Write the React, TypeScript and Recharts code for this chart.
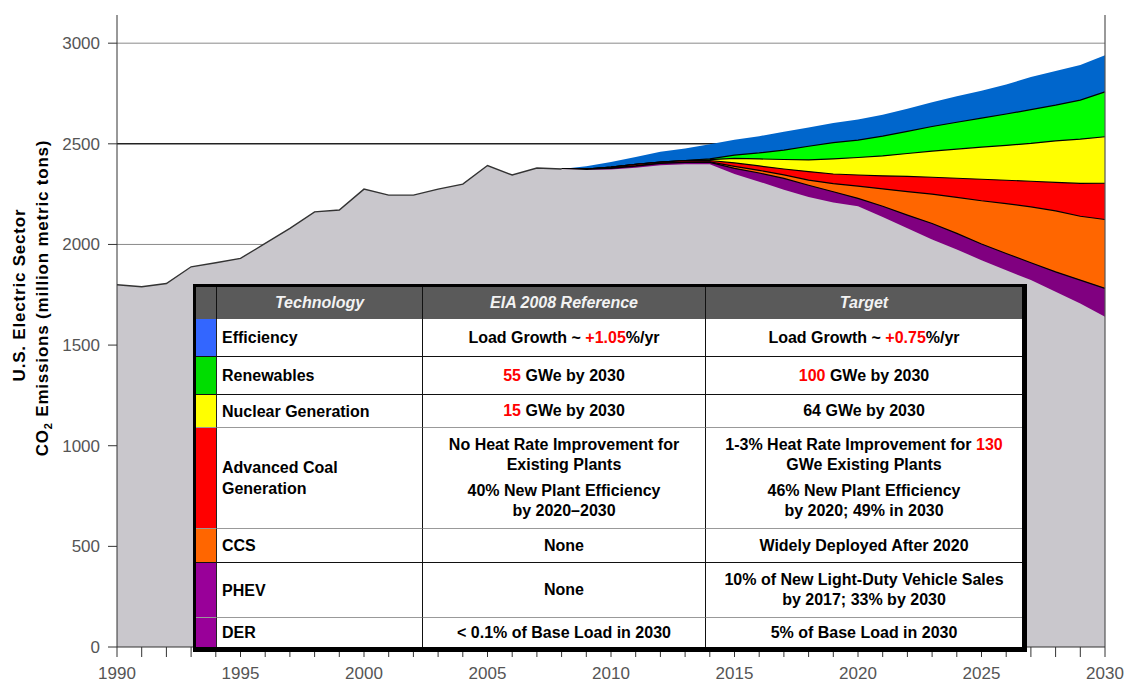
import React from "react";
import {
  ComposedChart,
  Area,
  Line,
  XAxis,
  YAxis,
  CartesianGrid,
  ReferenceLine,
} from "recharts";

// years on the x axis
const years = [
  1990, 1991, 1992, 1993, 1994, 1995, 1996, 1997, 1998, 1999, 2000, 2001, 2002,
  2003, 2004, 2005, 2006, 2007, 2008, 2009, 2010, 2011, 2012, 2013, 2014, 2015,
  2016, 2017, 2018, 2019, 2020, 2021, 2022, 2023, 2024, 2025, 2026, 2027, 2028,
  2029, 2030,
];

// grey area: history to 2008, then the emissions left after all measures
const baseline = [
  1800, 1790, 1806, 1889, 1909, 1931, 2005, 2080, 2162, 2171, 2275, 2245, 2245,
  2275, 2300, 2392, 2345, 2380, 2375, 2370, 2372, 2381, 2393, 2398, 2398, 2350,
  2312, 2272, 2236, 2208, 2190, 2137, 2080, 2025, 1975, 1922, 1872, 1823, 1765,
  1707, 1641,
];

// projection years, and the top edge of each coloured band
const projYears = [
  2008, 2009, 2010, 2011, 2012, 2013, 2014, 2015, 2016, 2017, 2018, 2019, 2020,
  2021, 2022, 2023, 2024, 2025, 2026, 2027, 2028, 2029, 2030,
];
const phevDerTop = [
  2375, 2373, 2378, 2389, 2403, 2408, 2408, 2378, 2355, 2328, 2294, 2262, 2229,
  2190, 2146, 2104, 2055, 2002, 1955, 1909, 1864, 1823, 1782,
];
const ccsTop = [
  2375, 2374, 2380, 2390, 2404, 2409, 2410, 2388, 2368, 2346, 2320, 2302, 2290,
  2276, 2262, 2250, 2234, 2217, 2203, 2187, 2167, 2140, 2124,
];
const coalTop = [
  2375, 2375, 2384, 2398, 2409, 2416, 2417, 2405, 2390, 2375, 2362, 2350, 2345,
  2341, 2338, 2334, 2329, 2324, 2319, 2314, 2308, 2303, 2304,
];
const nuclearTop = [
  2375, 2375, 2384, 2398, 2409, 2417, 2421, 2428, 2425, 2422, 2420, 2425, 2432,
  2440, 2452, 2464, 2474, 2484, 2492, 2502, 2515, 2523, 2535,
];
const renewablesTop = [
  2375, 2375, 2384, 2398, 2409, 2417, 2425, 2444, 2455, 2469, 2488, 2506, 2518,
  2538, 2562, 2586, 2607, 2628, 2648, 2670, 2692, 2717, 2758,
];
const efficiencyTop = [
  2375, 2389, 2410, 2435, 2460, 2477, 2498, 2520, 2538, 2560, 2581, 2603, 2621,
  2645, 2674, 2706, 2736, 2764, 2795, 2832, 2862, 2891, 2940,
];

const yTicks = [0, 500, 1000, 1500, 2000, 2500, 3000];
const xTickLabels = [1990, 1995, 2000, 2005, 2010, 2015, 2020, 2025, 2030];

const proj = (arr: number[], year: number) => {
  const k = projYears.indexOf(year);
  return k >= 0 ? arr[k] : null;
};

const data = years.map((year, i) => ({
  year,
  base: baseline[i],
  hist: year <= 2008 ? baseline[i] : null,
  phev: proj(phevDerTop, year),
  ccs: proj(ccsTop, year),
  coal: proj(coalTop, year),
  nuclear: proj(nuclearTop, year),
  renewables: proj(renewablesTop, year),
  efficiency: proj(efficiencyTop, year),
}));

// table text
const RED = "#ff0000";
type Part = string | { red: string };
type Row = {
  swatch: string;
  tech: string[];
  eia: Part[][];
  target: Part[][];
  height: number;
  topLine: string;
};

const rows: Row[] = [
  {
    swatch: "#3366ff",
    tech: ["Efficiency"],
    eia: [["Load Growth ~ ", { red: "+1.05" }, "%/yr"]],
    target: [["Load Growth ~ ", { red: "+0.75" }, "%/yr"]],
    height: 37,
    topLine: "#333",
  },
  {
    swatch: "#00dd00",
    tech: ["Renewables"],
    eia: [[{ red: "55" }, " GWe by 2030"]],
    target: [[{ red: "100" }, " GWe by 2030"]],
    height: 38,
    topLine: "#111",
  },
  {
    swatch: "#ffff00",
    tech: ["Nuclear Generation"],
    eia: [[{ red: "15" }, " GWe by 2030"]],
    target: [["64 GWe by 2030"]],
    height: 33,
    topLine: "#111",
  },
  {
    swatch: "#ff0000",
    tech: ["Advanced Coal", "Generation"],
    eia: [
      ["No Heat Rate Improvement for"],
      ["Existing Plants"],
      [],
      ["40% New Plant Efficiency"],
      ["by 2020\u20132030"],
    ],
    target: [
      ["1-3% Heat Rate Improvement for ", { red: "130" }],
      ["GWe Existing Plants"],
      [],
      ["46% New Plant Efficiency"],
      ["by 2020; 49% in 2030"],
    ],
    height: 101,
    topLine: "#999",
  },
  {
    swatch: "#ff6600",
    tech: ["CCS"],
    eia: [["None"]],
    target: [["Widely Deployed After 2020"]],
    height: 34,
    topLine: "#999",
  },
  {
    swatch: "#990099",
    tech: ["PHEV"],
    eia: [["None"]],
    target: [["10% of New Light-Duty Vehicle Sales"], ["by 2017; 33% by 2030"]],
    height: 55,
    topLine: "#111",
  },
  {
    swatch: "#990099",
    tech: ["DER"],
    eia: [["< 0.1% of Base Load in 2030"]],
    target: [["5% of Base Load in 2030"]],
    height: 30,
    topLine: "#999",
  },
];

const colWidths = [20, 206, 283, 317];
const headers = ["", "Technology", "EIA 2008 Reference", "Target"];

const textFont = "'Liberation Sans', Arial, sans-serif";

function Lines({ lines }: { lines: Part[][] }) {
  return (
    <div style={{ textAlign: "center" }}>
      {lines.map((line, i) =>
        line.length === 0 ? (
          <div key={i} style={{ height: 6 }} />
        ) : (
          <div key={i} style={{ lineHeight: "20px", whiteSpace: "nowrap" }}>
            {line.map((p, j) =>
              typeof p === "string" ? (
                <span key={j}>{p}</span>
              ) : (
                <span key={j} style={{ color: RED }}>
                  {p.red}
                </span>
              )
            )}
          </div>
        )
      )}
    </div>
  );
}

function TechTable() {
  const cell = (extra: React.CSSProperties): React.CSSProperties => ({
    boxSizing: "border-box",
    display: "flex",
    alignItems: "center",
    ...extra,
  });
  return (
    <div
      style={{
        position: "absolute",
        left: 193,
        top: 284,
        borderStyle: "solid",
        borderColor: "#000",
        borderWidth: "3px 5px 5px 3px",
        background: "#fff",
        fontFamily: textFont,
        fontWeight: "bold",
        fontSize: 16,
        color: "#000",
        display: "grid",
        gridTemplateColumns: colWidths.map((w) => w + "px").join(" "),
        gridTemplateRows: [32, ...rows.map((r) => r.height)]
          .map((h) => h + "px")
          .join(" "),
      }}
    >
      {headers.map((h, c) => (
        <div
          key={"h" + c}
          style={cell({
            background: "#5a5a5a",
            color: "#f2f2f2",
            fontStyle: "italic",
            fontSize: 16,
            justifyContent: "center",
            borderLeft: c > 0 ? "1.5px solid #111" : undefined,
          })}
        >
          {h}
        </div>
      ))}
      {rows.map((r, ri) => (
        <React.Fragment key={ri}>
          <div
            style={cell({
              background: r.swatch,
              borderTop: ri > 0 ? "1.5px solid " + r.topLine : undefined,
            })}
          />
          <div
            style={cell({
              paddingLeft: 5,
              borderLeft: "1px solid #222",
              borderTop: ri > 0 ? "1.5px solid " + r.topLine : undefined,
            })}
          >
            <div style={{ lineHeight: "21px" }}>
              {r.tech.map((t, i) => (
                <div key={i}>{t}</div>
              ))}
            </div>
          </div>
          <div
            style={cell({
              justifyContent: "center",
              borderLeft: "1.5px solid #111",
              borderTop: ri > 0 ? "1.5px solid " + r.topLine : undefined,
            })}
          >
            <Lines lines={r.eia} />
          </div>
          <div
            style={cell({
              justifyContent: "center",
              borderLeft: "1.5px solid #111",
              borderTop: ri > 0 ? "1.5px solid " + r.topLine : undefined,
            })}
          >
            <Lines lines={r.target} />
          </div>
        </React.Fragment>
      ))}
    </div>
  );
}

const renderXTick = (props: any) => {
  const { x, y, payload } = props;
  if (!xTickLabels.includes(payload.value)) return <g />;
  return (
    <text
      x={x}
      y={y + 20}
      textAnchor="middle"
      fill="#555"
      fontSize={17}
      fontFamily={textFont}
    >
      {payload.value}
    </text>
  );
};

const axisLabel: React.CSSProperties = {
  position: "absolute",
  transform: "translate(-50%, -50%) rotate(-90deg)",
  whiteSpace: "nowrap",
  fontFamily: textFont,
  fontWeight: "bold",
  fontSize: 17,
  letterSpacing: 0.8,
  color: "#000",
};

export default function App() {
  return (
    <div
      style={{
        position: "fixed",
        left: 0,
        top: 0,
        width: 1128,
        height: 688,
        background: "#fff",
      }}
    >
      <ComposedChart
        width={1128}
        height={688}
        data={data}
        margin={{ top: 15, right: 23, bottom: 0, left: 0 }}
      >
        <CartesianGrid
          vertical={false}
          horizontalValues={[2000, 3000]}
          stroke="#8a8a8a"
          strokeWidth={1}
        />
        <CartesianGrid
          vertical={false}
          horizontalValues={[2500]}
          stroke="#222"
          strokeWidth={1.6}
        />
        <XAxis
          dataKey="year"
          type="number"
          domain={[1990, 2030]}
          ticks={years}
          interval={0}
          tick={renderXTick}
          tickSize={10}
          height={41}
          axisLine={{ stroke: "#333" }}
          tickLine={{ stroke: "#333" }}
        />
        <YAxis
          type="number"
          domain={[0, 3140]}
          ticks={yTicks}
          width={117}
          tickSize={9}
          tickMargin={8}
          axisLine={{ stroke: "#333" }}
          tickLine={{ stroke: "#333" }}
          tick={{ fill: "#555", fontSize: 17, fontFamily: textFont }}
        />
        <Area
          type="linear"
          dataKey="efficiency"
          fill="#0066cc"
          fillOpacity={1}
          stroke="none"
          isAnimationActive={false}
        />
        <Area
          type="linear"
          dataKey="renewables"
          fill="#00ff00"
          fillOpacity={1}
          stroke="#000"
          strokeWidth={1.2}
          isAnimationActive={false}
        />
        <Area
          type="linear"
          dataKey="nuclear"
          fill="#ffff00"
          fillOpacity={1}
          stroke="#000"
          strokeWidth={1.2}
          isAnimationActive={false}
        />
        <Area
          type="linear"
          dataKey="coal"
          fill="#ff0000"
          fillOpacity={1}
          stroke="#000"
          strokeWidth={1.2}
          isAnimationActive={false}
        />
        <Area
          type="linear"
          dataKey="ccs"
          fill="#ff6600"
          fillOpacity={1}
          stroke="#000"
          strokeWidth={1.2}
          isAnimationActive={false}
        />
        <Area
          type="linear"
          dataKey="phev"
          fill="#800080"
          fillOpacity={1}
          stroke="#000"
          strokeWidth={1.2}
          isAnimationActive={false}
        />
        <Area
          type="linear"
          dataKey="base"
          fill="#c9c7cc"
          fillOpacity={1}
          stroke="none"
          isAnimationActive={false}
        />
        <Line
          type="linear"
          dataKey="hist"
          stroke="#333"
          strokeWidth={1.4}
          dot={false}
          isAnimationActive={false}
        />
        <ReferenceLine x={2030} stroke="#555" strokeWidth={1.2} />
      </ComposedChart>
      <div style={{ ...axisLabel, left: 20, top: 295 }}>U.S. Electric Sector</div>
      <div style={{ ...axisLabel, left: 43, top: 298 }}>
        CO<sub style={{ fontSize: 11, verticalAlign: "-4px" }}>2</sub> Emissions
        (million metric tons)
      </div>
      <TechTable />
    </div>
  );
}
